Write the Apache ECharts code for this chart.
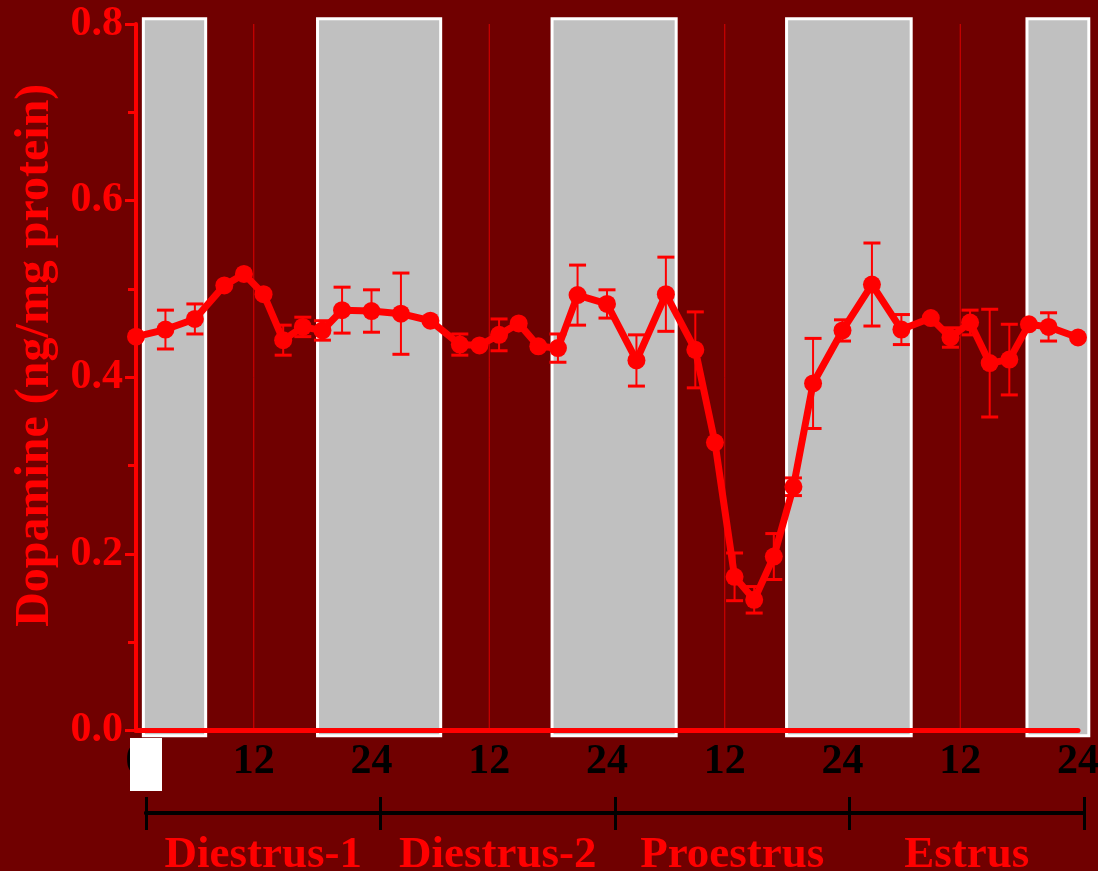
<!DOCTYPE html>
<html>
<head>
<meta charset="utf-8">
<script src="https://cdn.jsdelivr.net/npm/echarts@6/dist/echarts.min.js"></script>
<style>html,body{margin:0;padding:0;background:#700000;overflow:hidden;}#c{width:1098px;height:871px;}</style>
</head>
<body>
<div id="c"></div>
<script>
// ---- data ----
const hours = [0,3,6,9,11,13,15,17,19,21,24,27,30,33,35,37,39,41,43,45,48,51,54,57,59,61,63,65,67,69,72,75,78,81,83,85,87,89,91,93,96];
const dopamine = [0.446,0.454,0.466,0.504,0.517,0.494,0.442,0.457,0.453,0.476,0.475,0.472,0.464,0.437,0.436,0.448,0.461,0.435,0.433,0.493,0.483,0.419,0.494,0.431,0.326,0.174,0.148,0.197,0.276,0.393,0.453,0.505,0.454,0.467,0.445,0.462,0.416,0.420,0.460,0.457,0.445];
// 0 = error bar hidden behind the marker
const sem = [0,0.022,0.017,0,0,0,0.017,0.011,0.011,0.026,0.024,0.046,0,0.012,0,0.018,0,0,0.016,0.034,0.016,0.029,0.042,0.043,0,0.027,0.015,0.026,0.010,0.051,0.012,0.047,0.017,0,0.011,0.014,0.061,0.040,0,0.016,0];
const darkPeriods = [[0.75,7.1],[18.5,31.05],[42.4,55.05],[66.3,79.0],[90.8,97.1]];
const middayLines = [12,36,60,84];
const phases = ['Diestrus-1','Diestrus-2','Proestrus','Estrus'];

const FONT = '"Liberation Serif","Times New Roman",serif';
const RED = '#ff0000';

const chart = echarts.init(document.getElementById('c'), null, {renderer:'canvas'});
const option = {
  backgroundColor: '#700000',
  animation: false,
  grid: [
    {left:136, right:20, top:24, bottom:140.5, containLabel:false, outerBoundsMode:'none'},
    {left:146, right:14, top:700, height:113, containLabel:false, outerBoundsMode:'none'}
  ],
  xAxis: [
    {
      gridIndex:0, type:'value', min:0, max:96, interval:12, z:5,
      axisLine:{show:true, lineStyle:{color:RED, width:5, cap:'round'}},
      axisTick:{show:false}, splitLine:{show:false},
      axisLabel:{color:'#000', fontFamily:FONT, fontWeight:'bold', fontSize:42, margin:11, hideOverlap:false,
        formatter: v => v === 0 ? '0' : (v % 24 === 0 ? '24' : '12')}
    },
    {
      gridIndex:1, type:'category', data:phases, position:'bottom',
      axisLine:{show:true, lineStyle:{color:'#000', width:4}},
      axisTick:{show:true, inside:false, length:17, lineStyle:{color:'#000', width:3}},
      axisLabel:{show:true, interval:0, color:RED, fontFamily:FONT, fontWeight:'bold', fontSize:45, margin:20}
    },
    {
      gridIndex:1, type:'category', data:phases, position:'bottom',
      axisLine:{show:true, lineStyle:{color:'#000', width:4}},
      axisTick:{show:true, inside:true, length:16, lineStyle:{color:'#000', width:3}},
      axisLabel:{show:false}
    }
  ],
  yAxis: [
    {
      gridIndex:0, type:'value', min:0, max:0.8, interval:0.2, z:5,
      name:'Dopamine (ng/mg protein)', nameLocation:'middle', nameGap:76,
      nameTextStyle:{color:RED, fontFamily:FONT, fontWeight:'bold', fontSize:48, padding:[0,0,0,44]},
      axisLine:{show:true, lineStyle:{color:RED, width:4}},
      axisTick:{show:true, length:11, lineStyle:{color:RED, width:3}},
      minorTick:{show:true, splitNumber:2, length:8, lineStyle:{color:RED, width:3}},
      splitLine:{show:false},
      axisLabel:{color:RED, fontFamily:FONT, fontWeight:'bold', fontSize:42, margin:13,
        formatter: v => v.toFixed(1)}
    },
    {gridIndex:1, type:'value', show:false}
  ],
  series: [
    {
      type:'custom', xAxisIndex:0, yAxisIndex:0, z:1, silent:true,
      data: darkPeriods,
      renderItem: (params, api) => {
        const a = api.coord([api.value(0), 0.806]);
        const b = api.coord([api.value(1), -0.006]);
        return {type:'rect', shape:{x:a[0], y:a[1], width:b[0]-a[0], height:b[1]-a[1]},
          style:{fill:'#c0c0c0', stroke:'#ffffff', lineWidth:3}};
      }
    },
    {
      type:'custom', xAxisIndex:0, yAxisIndex:0, z:1, silent:true,
      data: middayLines.map(h => [h]),
      renderItem: (params, api) => {
        const a = api.coord([api.value(0), 0.8]);
        const b = api.coord([api.value(0), 0]);
        return {type:'line', shape:{x1:a[0], y1:a[1], x2:b[0], y2:b[1]},
          style:{stroke:'#dd0000', lineWidth:1}};
      }
    },
    {
      type:'custom', xAxisIndex:0, yAxisIndex:0, z:3, silent:true,
      data: hours.map((h,i) => [h, dopamine[i], sem[i]]),
      renderItem: (params, api) => {
        const h = api.value(0), v = api.value(1), e = api.value(2);
        if (!e) return null;
        const t = api.coord([h, v+e]), b = api.coord([h, v-e]);
        const w = 8.5;
        return {type:'group', children:[
          {type:'line', shape:{x1:t[0], y1:t[1], x2:b[0], y2:b[1]}, style:{stroke:RED, lineWidth:2}},
          {type:'line', shape:{x1:t[0]-w, y1:t[1], x2:t[0]+w, y2:t[1]}, style:{stroke:RED, lineWidth:3}},
          {type:'line', shape:{x1:b[0]-w, y1:b[1], x2:b[0]+w, y2:b[1]}, style:{stroke:RED, lineWidth:3}}
        ]};
      }
    },
    {
      type:'line', xAxisIndex:0, yAxisIndex:0, z:4,
      data: hours.map((h,i) => [h, dopamine[i]]),
      symbol:'circle', symbolSize:18,
      lineStyle:{color:RED, width:7},
      itemStyle:{color:RED},
      clip:false
    }
  ],
  graphic: [
    {type:'rect', shape:{x:130, y:738, width:32, height:53}, style:{fill:'#ffffff'}, z:100}
  ]
};
chart.setOption(option);
</script>
</body>
</html>
